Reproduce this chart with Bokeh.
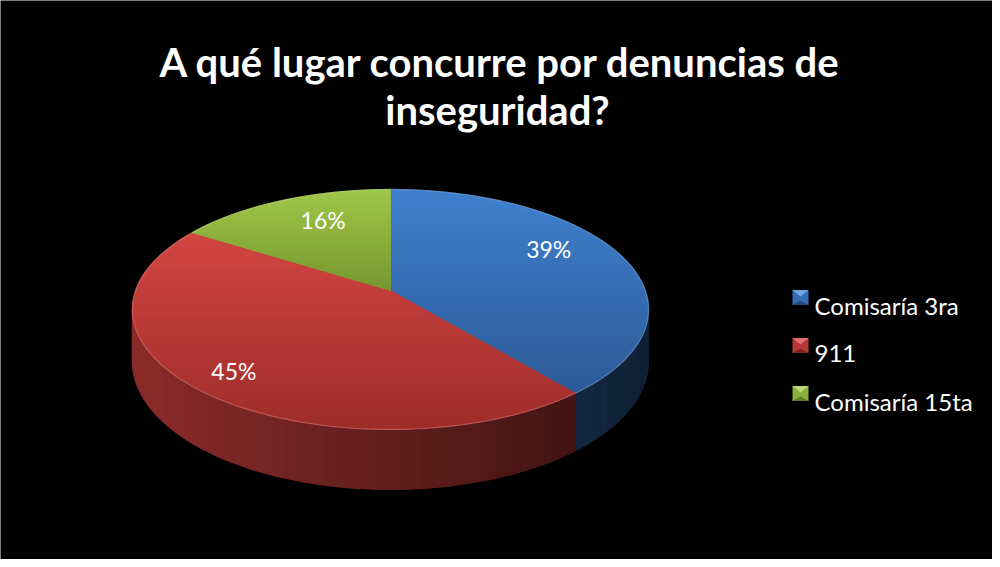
import numpy as np
from bokeh.plotting import figure
from bokeh.models import Range1d
from bokeh.core.properties import value
from bokeh.embed import file_html
from bokeh.resources import INLINE

# ---------------- data ----------------
title_lines = ["A qué lugar concurre por denuncias de", "inseguridad?"]
categories = ["Comisaría 3ra", "911", "Comisaría 15ta"]
values = [39, 45, 16]

# ---------------- styles ----------------
top_colors = ["#3f80ce", "#d24541", "#a0c748"]      # gradient start (back of slice)
bottom_colors = ["#2c5a97", "#9e2c2a", "#76972f"]   # gradient end (front of slice)
wall_base = [(61, 124, 201), (205, 64, 61), (155, 193, 69)]
legend_light = ["#6fa3e0", "#e07370", "#bcd977"]
legend_dark = ["#25497a", "#7f2321", "#5f7a26"]
label_offsets = [(-8, -14), (-24, 11), (13, -3)]
FONT = "Lato"

# ---------------- geometry (screen pixels) ----------------
CX, CY, RX, RY, K, DEPTH = 398.0, 298.0, 254.8, 117.0, 0.158, 50.5


def proj(theta, z=0.0, r=1.0):
    c, s = r * np.cos(theta), r * np.sin(theta)
    w = 1 + K * s
    return CX + RX * c / w, CY - RY * s / w + DEPTH * z / w


def hexcol(rgb):
    r, g, b = [int(max(0, min(255, round(v)))) for v in rgb]
    return "#%02x%02x%02x" % (r, g, b)


def h2rgb(h):
    h = h.lstrip("#")
    return np.array([int(h[i:i + 2], 16) for i in (0, 2, 4)], dtype=float)


def clip_half(pts, yc, keep_above):
    out = []
    n = len(pts)
    for i in range(n):
        P, Q = pts[i], pts[(i + 1) % n]
        pin = P[1] >= yc if keep_above else P[1] <= yc
        qin = Q[1] >= yc if keep_above else Q[1] <= yc
        if pin:
            out.append(P)
        if pin != qin:
            t = (yc - P[1]) / (Q[1] - P[1])
            out.append((P[0] + t * (Q[0] - P[0]), yc))
    return out


W, H = 992, 559
p = figure(width=W, height=H, x_range=Range1d(8, 1000), y_range=Range1d(567, 8),
           output_backend="svg", toolbar_location=None, min_border=0,
           x_axis_location=None, y_axis_location=None,
           background_fill_color="black", border_fill_color="black",
           outline_line_color=None)
p.grid.visible = False

total = float(sum(values))
fracs = [v / total for v in values]
cum = np.concatenate([[0.0], np.cumsum(fracs)])
starts = np.pi / 2 - 2 * np.pi * cum[:-1]
ends = np.pi / 2 - 2 * np.pi * cum[1:]

# ---------------- side walls ----------------
quads = []
for i in range(len(values)):
    n = max(4, int(abs(starts[i] - ends[i]) / np.radians(2.0)))
    th = np.linspace(starts[i], ends[i], n + 1)
    for a, b in zip(th[:-1], th[1:]):
        x1, y1 = proj(a)
        x2, y2 = proj(b)
        x3, y3 = proj(b, 1)
        x4, y4 = proj(a, 1)
        xm = (x1 + x2) / 2
        t = np.clip((xm - 139) / 517.0, 0, 1)
        f = 0.68 - 0.42 * t
        col = hexcol(np.array(wall_base[i]) * f)
        quads.append((np.sin((a + b) / 2), [x1, x2, x3, x4], [y1, y2, y3, y4], col))
quads.sort(key=lambda q: -q[0])
p.patches(xs=[q[1] for q in quads], ys=[q[2] for q in quads],
          fill_color=[q[3] for q in quads], line_color=[q[3] for q in quads], line_width=1.2)

# ---------------- top faces with vertical gradient ----------------
NB = 40
for i in range(len(values)):
    th = np.linspace(starts[i], ends[i], 200)
    ax, ay = proj(th)
    poly = [(CX, CY)] + list(zip(ax, ay))
    ys_all = [pt[1] for pt in poly]
    ymin, ymax = min(ys_all), max(ys_all)
    c0, c1 = h2rgb(top_colors[i]), h2rgb(bottom_colors[i])
    mid = hexcol((c0 + c1) / 2)
    p.patch([pt[0] for pt in poly], [pt[1] for pt in poly], fill_color=mid, line_color=mid, line_width=0.5)
    bxs, bys, bcs = [], [], []
    for j in range(NB):
        y0 = ymin + (ymax - ymin) * j / NB
        y1 = ymin + (ymax - ymin) * (j + 1) / NB
        sub = clip_half(clip_half(poly, y0 - 0.3, True), y1 + 0.3, False)
        if len(sub) < 3:
            continue
        t = (j + 0.5) / NB
        bxs.append([pt[0] for pt in sub])
        bys.append([pt[1] for pt in sub])
        bcs.append(hexcol(c0 + (c1 - c0) * t))
    p.patches(xs=bxs, ys=bys, fill_color=bcs, line_color=None)
    # rim highlight
    light = hexcol(h2rgb(top_colors[i]) * 0.6 + 255 * 0.4)
    p.line(ax, ay, line_color=light, line_width=1.3, line_alpha=0.4)

# ---------------- data labels ----------------
lx, ly, lt = [], [], []
for i in range(len(values)):
    m = (starts[i] + ends[i]) / 2
    x, y = proj(m, 0, 0.72)
    lx.append(x + label_offsets[i][0])
    ly.append(y + label_offsets[i][1])
    lt.append("%d%%" % round(fracs[i] * 100))
p.text(x=lx, y=ly, text=lt, text_color="white", text_font=value(FONT),
       text_font_size="23px", text_align="center", text_baseline="middle")

# ---------------- title ----------------
p.text(x=[508, 505], y=[69, 117], text=title_lines, text_color="white",
       text_font=value(FONT), text_font_style="bold", text_font_size="40px",
       text_align="center", text_baseline="alphabetic")

# ---------------- legend ----------------
for i, cat in enumerate(categories):
    yc = 305 + 48 * i
    x0, x1, y0, y1 = 800, 816, yc - 7.5, yc + 7.5
    p.quad(left=x0, right=x1, top=y0, bottom=y1, fill_color=hexcol((h2rgb(top_colors[i]) + h2rgb(bottom_colors[i])) / 2), line_color=None)
    xm_, ym_ = (x0 + x1) / 2, (y0 + y1) / 2
    p.patch([x0, x1, xm_], [y0, y0, ym_ - 1], fill_color=legend_light[i], line_color=None)
    p.patch([x0, x1, xm_], [y1, y1, ym_ + 3], fill_color=legend_dark[i], line_color=None)
    p.text(x=[822], y=[yc + 8], text=[cat], text_color="white", text_font=value(FONT),
           text_font_size="24px", text_align="left", text_baseline="alphabetic")

open("out.html", "w").write(file_html(p, INLINE))
